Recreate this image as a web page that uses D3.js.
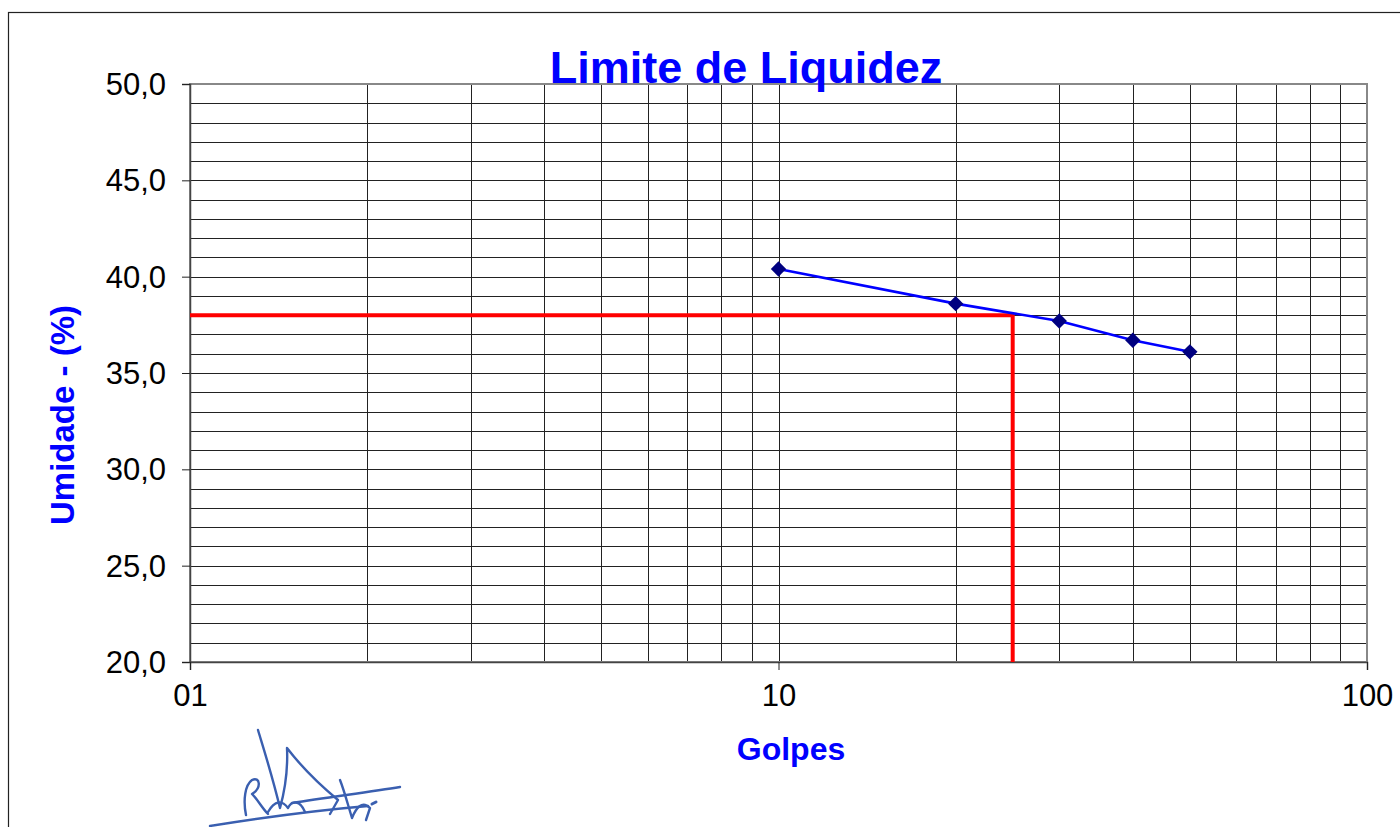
<!DOCTYPE html>
<html><head><meta charset="utf-8">
<script src="https://cdn.jsdelivr.net/npm/d3@7"></script>
<style>body{margin:0;background:#fff}svg{display:block}text{font-family:"Liberation Sans",Arial,sans-serif}</style>
</head><body>
<svg id="c" width="1400" height="827"></svg>
<script>
const golpes = [10, 20, 30, 40, 50];
const umidade = [40.4, 38.6, 37.7, 36.7, 36.1];
const limiteLiquidez = 38.0;
const golpesRef = 25;
const xTickValues = [1, 10, 100];
const xTickLabels = ["01", "10", "100"];
const yTickValues = [20, 25, 30, 35, 40, 45, 50];
const titleText = "Limite de Liquidez";
const xTitle = "Golpes";
const yTitle = "Umidade - (%)";

const svg = d3.select("#c");
const L = 190, R = 1367, T = 84, B = 662;
const x = d3.scaleLog().domain([1, 100]).range([L, R]);
const y = d3.scaleLinear().domain([20, 50]).range([B, T]);

// outer frame
svg.append("rect").attr("x", 8.5).attr("y", 12.5).attr("width", 1400).attr("height", 830)
  .attr("fill", "none").attr("stroke", "#222").attr("stroke-width", 1.2);

// grid
const g = svg.append("g");
const hLines = d3.range(21, 50, 1);
g.selectAll(".hl").data(hLines).enter().append("line")
  .attr("x1", L).attr("x2", R).attr("y1", d => Math.round(y(d)) + 0.5).attr("y2", d => Math.round(y(d)) + 0.5)
  .attr("stroke", "#222").attr("stroke-width", 1);
const vLines = [2,3,4,5,6,7,8,9,10,20,30,40,50,60,70,80,90];
g.selectAll(".vl").data(vLines).enter().append("line")
  .attr("y1", T).attr("y2", B).attr("x1", d => Math.round(x(d)) + 0.5).attr("x2", d => Math.round(x(d)) + 0.5)
  .attr("stroke", "#222").attr("stroke-width", 1);

// plot border
svg.append("rect").attr("x", L).attr("y", T).attr("width", R - L).attr("height", B - T)
  .attr("fill", "none").attr("stroke", "#888").attr("stroke-width", 2);

// axes
const yAxis = d3.axisLeft(y).tickValues(yTickValues).tickSize(8).tickPadding(12)
  .tickFormat(d => d3.format(".1f")(d).replace(".", ","));
const ya = svg.append("g").attr("transform", `translate(${L},0)`).call(yAxis);
ya.attr("font-size", null).attr("font-family", null);
ya.select(".domain").attr("stroke", "#444").attr("stroke-width", 1.5);
ya.selectAll(".tick line").attr("stroke", "#222");
ya.selectAll("text").style("font-size", "31px").attr("fill", "#000").attr("dx", -4).attr("dy", "0.34em");

const xAxis = d3.axisBottom(x).tickValues(xTickValues).tickSize(8).tickPadding(14)
  .tickFormat((d, i) => xTickLabels[i]);
const xa = svg.append("g").attr("transform", `translate(0,${B})`).call(xAxis);
xa.attr("font-size", null).attr("font-family", null);
xa.select(".domain").attr("stroke", "#444").attr("stroke-width", 1.5);
xa.selectAll(".tick line").attr("stroke", "#222");
xa.selectAll("text").style("font-size", "31px").attr("fill", "#000").attr("dy", "0.72em");

// red reference lines
svg.append("path")
  .attr("d", `M${L},${y(limiteLiquidez)}H${x(golpesRef)}V${B}`)
  .attr("fill", "none").attr("stroke", "#ff0000").attr("stroke-width", 4);

// data line
const pts = golpes.map((d, i) => [d, umidade[i]]);
svg.append("path").datum(pts)
  .attr("d", d3.line().x(d => x(d[0])).y(d => y(d[1])))
  .attr("fill", "none").attr("stroke", "#0000ff").attr("stroke-width", 2.6);
svg.selectAll(".mk").data(pts).enter().append("path")
  .attr("d", d3.symbol().type(d3.symbolDiamond2).size(150))
  .attr("transform", d => `translate(${x(d[0])},${y(d[1])})`)
  .attr("fill", "#000080");

// titles
svg.append("text").attr("x", 746).attr("y", 83).attr("text-anchor", "middle")
  .style("font-size", "45px").attr("font-weight", "bold").attr("fill", "#0000ff").text(titleText);
svg.append("text").attr("x", 791).attr("y", 760).attr("text-anchor", "middle")
  .style("font-size", "32px").attr("font-weight", "bold").attr("fill", "#0000ff").text(xTitle);
svg.append("text").attr("transform", "translate(74,415) rotate(-90)").attr("text-anchor", "middle")
  .style("font-size", "33px").attr("font-weight", "bold").attr("fill", "#0000ff").text(yTitle);

// signature (decorative scribble)
const sig = svg.append("g").attr("fill", "none").attr("stroke", "#3a5fb0").attr("stroke-width", 2.4)
  .attr("stroke-linecap", "round").attr("stroke-linejoin", "round");
sig.append("path").attr("d", "M210,826 C260,818 320,810 368,806");
sig.append("path").attr("d", "M292,803 C330,797 370,792 400,787");
sig.append("path").attr("d", "M246,815 C243,800 245,785 252,780 C260,776 262,788 252,794 C258,800 262,808 268,814");
sig.append("path").attr("d", "M258,730 C264,750 272,775 280,808 C285,790 288,770 287,748 C300,765 320,785 338,800 L330,814");
sig.append("path").attr("d", "M268,812 C275,800 282,800 288,808 C292,800 300,800 305,812");
sig.append("path").attr("d", "M340,780 C344,790 348,805 352,818 C356,808 362,800 370,808 L366,820");
sig.append("path").attr("d", "M372,804 L376,802").attr("stroke-width", 3);
</script>
</body></html>
